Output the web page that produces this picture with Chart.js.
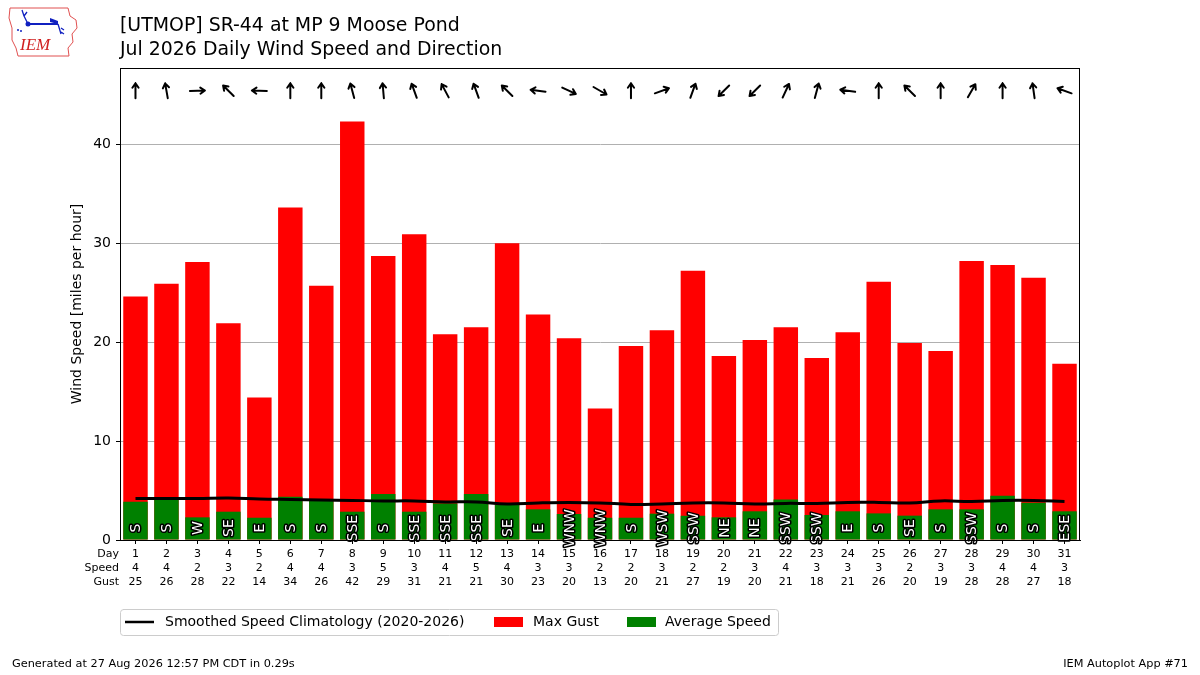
<!DOCTYPE html>
<html>
<head>
<meta charset="utf-8">
<script src="https://cdn.jsdelivr.net/npm/chart.js@4"></script>
<style>
  html, body { margin: 0; padding: 0; background: #fff; }
  #wrap { position: relative; width: 1200px; height: 675px; overflow: hidden; font-family: "DejaVu Sans", sans-serif; }
  #c { position: absolute; left: 0; top: 0; }
  .title { position: absolute; left: 120px; font-size: 18.9px; line-height: 24px; color: #000; white-space: nowrap; }
  .foot { position: absolute; font-size: 11.3px; color: #000; white-space: nowrap; }
  #logo { position: absolute; left: 6px; top: 4px; }
</style>
</head>
<body>
<div id="wrap">
  <canvas id="c" width="1200" height="675"></canvas>
  <svg id="logo" width="76" height="56" viewBox="0 0 76 56">
    <path d="M4,4 L62,4 L64,12 L70,16 L71,24 L66,30 L67,38 L62,44 L63,52 L12,52 L10,44 L6,36 L6,24 L3,14 Z" fill="none" stroke="#e05050" stroke-width="1"/>
    <line x1="20" y1="20" x2="52" y2="20" stroke="#1020c0" stroke-width="2"/>
    <circle cx="22" cy="20" r="2.5" fill="#1020c0"/>
    <path d="M44,14 L52,17 L52,20 L44,18 Z" fill="#1020c0"/>
    <path d="M18,12 L16,6 M18,12 L21,8 M18,12 L22,20" stroke="#1020c0" stroke-width="1.3" fill="none"/>
    <path d="M52,20 L55,30 M55,24 L58,26 M55,28 L58,30" stroke="#1020c0" stroke-width="1.3" fill="none"/>
    <circle cx="12" cy="26" r="1" fill="#1020c0"/><circle cx="15" cy="27" r="1" fill="#1020c0"/>
    <text x="14" y="46" font-family="Liberation Serif, serif" font-style="italic" font-size="17" fill="#d02020">IEM</text>
  </svg>
  <div class="title" style="top:12px;">[UTMOP] SR-44 at MP 9 Moose Pond</div>
  <div class="title" style="top:36px;">Jul 2026 Daily Wind Speed and Direction</div>
  <div class="foot" style="left:12px; top:657px;">Generated at 27 Aug 2026 12:57 PM CDT in 0.29s</div>
  <div class="foot" style="right:12px; top:657px;">IEM Autoplot App #71</div>
</div>
<script>
// ---- data ----
const days = ["1","2","3","4","5","6","7","8","9","10","11","12","13","14","15","16","17","18","19","20","21","22","23","24","25","26","27","28","29","30","31"];
const maxGust = [24.6,25.9,28.1,21.9,14.4,33.6,25.7,42.3,28.7,30.9,20.8,21.5,30.0,22.8,20.4,13.3,19.6,21.2,27.2,18.6,20.2,21.5,18.4,21.0,26.1,19.9,19.1,28.2,27.8,26.5,17.8];
const avgSpeed = [3.87,4.04,2.29,2.86,2.25,4.38,4.04,2.86,4.65,2.86,3.7,4.65,3.54,3.1,2.63,2.25,2.25,2.66,2.45,2.29,2.9,4.1,2.53,2.9,2.69,2.46,3.1,3.1,4.48,3.77,2.9];
const climo = [4.2,4.2,4.2,4.25,4.15,4.1,4.05,4.0,3.95,3.95,3.85,3.85,3.65,3.75,3.8,3.75,3.6,3.65,3.75,3.75,3.65,3.7,3.7,3.8,3.8,3.75,3.95,3.9,4.0,4.0,3.9];
const speedLabels = ["4","4","2","3","2","4","4","3","5","3","4","5","4","3","3","2","2","3","2","2","3","4","3","3","3","2","3","3","4","4","3"];
const gustLabels = ["25","26","28","22","14","34","26","42","29","31","21","21","30","23","20","13","20","21","27","19","20","21","18","21","26","20","19","28","28","27","18"];
const dirText = ["S","S","W","SE","E","S","S","SSE","S","SSE","SSE","SSE","SE","E","WNW","WNW","S","WSW","SSW","NE","NE","SSW","SSW","E","S","SE","S","SSW","S","S","ESE"];
const dirDeg = [180,170,268,135,92,180,180,165,175,160,152,160,135,97,295,300,180,250,200,45,45,205,195,98,180,135,180,210,180,172,110];
const yTicks = [0,10,20,30,40];
const rowLabels = ["Day","Speed","Gust"];
const legendItems = ["Smoothed Speed Climatology (2020-2026)","Max Gust","Average Speed"];

const FONT = "DejaVu Sans";

const decor = {
  id: 'decor',
  afterDatasetsDraw(chart) {
    const ctx = chart.ctx, x = chart.scales.x, y = chart.scales.y;
    ctx.save();
    ctx.font = "14px '" + FONT + "'";
    ctx.textAlign = 'center';
    ctx.textBaseline = 'middle';
    ctx.lineJoin = 'round';
    for (let i = 0; i < days.length; i++) {
      ctx.save();
      ctx.translate(x.getPixelForValue(i), y.getPixelForValue(1.2));
      ctx.rotate(-Math.PI / 2);
      ctx.lineWidth = 3;
      ctx.strokeStyle = '#000';
      ctx.strokeText(dirText[i], 0, 1);
      ctx.fillStyle = '#fff';
      ctx.fillText(dirText[i], 0, 1);
      ctx.restore();
    }
    ctx.restore();
  },
  afterDraw(chart) {
    const ctx = chart.ctx, x = chart.scales.x, y = chart.scales.y, a = chart.chartArea;
    ctx.save();
    ctx.strokeStyle = '#000';
    ctx.lineWidth = 1;
    ctx.strokeRect(a.left + 0.5, a.top + 0.5, a.right - a.left - 1, a.bottom - a.top);
    ctx.lineWidth = 2;
    ctx.lineCap = 'round';
    const cy = y.getPixelForValue(45.4);
    for (let i = 0; i < days.length; i++) {
      const cx = x.getPixelForValue(i);
      const to = (dirDeg[i] + 180) * Math.PI / 180;
      const dx = Math.sin(to), dy = -Math.cos(to);
      const L = 7.5;
      const hx = cx + dx * L, hy = cy + dy * L;
      const tx = cx - dx * L, ty = cy - dy * L;
      ctx.beginPath();
      ctx.moveTo(tx, ty); ctx.lineTo(hx, hy);
      const ang = Math.atan2(dy, dx);
      const hl = 5.5;
      ctx.moveTo(hx, hy); ctx.lineTo(hx - hl * Math.cos(ang - 0.6), hy - hl * Math.sin(ang - 0.6));
      ctx.moveTo(hx, hy); ctx.lineTo(hx - hl * Math.cos(ang + 0.6), hy - hl * Math.sin(ang + 0.6));
      ctx.stroke();
    }
    ctx.fillStyle = '#000';
    ctx.font = "11px '" + FONT + "'";
    ctx.textAlign = 'right';
    ctx.textBaseline = 'middle';
    for (let r = 0; r < rowLabels.length; r++) {
      ctx.fillText(rowLabels[r], 119, 554.5 + r * 14);
    }
    const lx = 120, ly = 609, lw = 658, lh = 26;
    ctx.beginPath();
    if (ctx.roundRect) ctx.roundRect(lx + 0.5, ly + 0.5, lw, lh, 3); else ctx.rect(lx + 0.5, ly + 0.5, lw, lh);
    ctx.fillStyle = 'rgba(255,255,255,0.8)';
    ctx.fill();
    ctx.strokeStyle = '#cccccc';
    ctx.lineWidth = 1;
    ctx.stroke();
    ctx.font = "14px '" + FONT + "'";
    ctx.textAlign = 'left';
    ctx.fillStyle = '#000';
    const my = ly + lh / 2;
    ctx.strokeStyle = '#000';
    ctx.lineWidth = 2.5;
    ctx.lineCap = 'butt';
    ctx.beginPath(); ctx.moveTo(125, my); ctx.lineTo(154, my); ctx.stroke();
    ctx.fillText(legendItems[0], 165, my);
    ctx.fillStyle = '#ff0000';
    ctx.fillRect(494, my - 5, 29, 10);
    ctx.fillStyle = '#000';
    ctx.fillText(legendItems[1], 533, my);
    ctx.fillStyle = '#008000';
    ctx.fillRect(627, my - 5, 29, 10);
    ctx.fillStyle = '#000';
    ctx.fillText(legendItems[2], 665, my);
    ctx.restore();
  }
};

new Chart(document.getElementById('c'), {
  type: 'bar',
  data: {
    labels: days,
    datasets: [
      {
        type: 'line',
        label: legendItems[0],
        data: climo,
        borderColor: '#000',
        borderWidth: 3,
        pointRadius: 0,
        tension: 0.4,
        order: 0
      },
      {
        label: legendItems[2],
        data: avgSpeed,
        backgroundColor: '#008000',
        grouped: false,
        barPercentage: 0.79,
        categoryPercentage: 1.0,
        order: 1
      },
      {
        label: legendItems[1],
        data: maxGust,
        backgroundColor: '#ff0000',
        grouped: false,
        barPercentage: 0.79,
        categoryPercentage: 1.0,
        order: 2
      }
    ]
  },
  options: {
    responsive: false,
    animation: false,
    devicePixelRatio: 1,
    layout: { padding: { left: 0, right: 120, top: 68, bottom: 0 } },
    plugins: { legend: { display: false }, tooltip: { enabled: false }, title: { display: false } },
    scales: {
      x: {
        offset: true,
        grid: { display: true, drawOnChartArea: false, offset: false, tickLength: 4, tickColor: '#000', tickWidth: 1 },
        border: { display: true, color: '#000' },
        ticks: {
          autoSkip: false,
          maxRotation: 0,
          padding: 3,
          color: '#000',
          font: { family: FONT, size: 11, lineHeight: 1.27 },
          callback: (v, i) => [days[i], speedLabels[i], gustLabels[i]]
        },
        afterFit: (s) => { s.height = 135; }
      },
      y: {
        min: 0,
        max: 47.7,
        afterBuildTicks: (s) => { s.ticks = yTicks.map(v => ({ value: v })); },
        grid: { color: '#b0b0b0', lineWidth: 1, tickLength: 4, tickColor: '#000' },
        border: { display: true, color: '#000' },
        ticks: { padding: 5, color: '#000', font: { family: FONT, size: 14 } },
        title: {
          display: true,
          text: 'Wind Speed [miles per hour]',
          color: '#000',
          font: { family: FONT, size: 14 },
          padding: { top: 69, bottom: 0 }
        },
        afterFit: (s) => { s.width = 120; }
      }
    }
  },
  plugins: [decor]
});
</script>
</body>
</html>
